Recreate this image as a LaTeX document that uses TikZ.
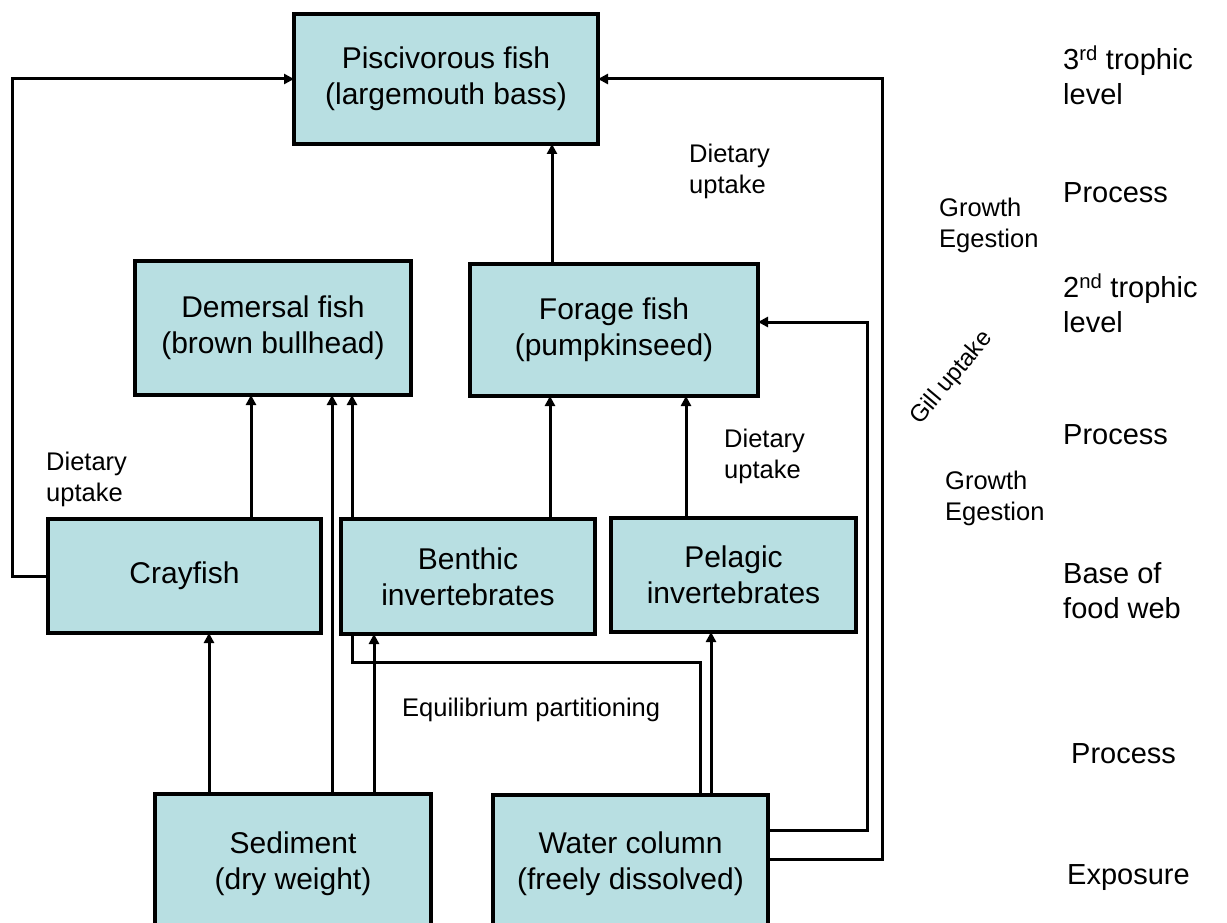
\documentclass[tikz,border=0pt]{standalone}
\usepackage{fontspec}
\setmainfont{Liberation Sans}
\usetikzlibrary{arrows.meta}
\definecolor{boxfill}{RGB}{184,223,226}
\tikzset{
  box/.style={draw=black, line width=4pt, fill=boxfill, inner sep=0pt, outer sep=0pt,
    align=center, font=\fontsize{30}{36}\selectfont},
  flow/.style={line width=3pt, -{Triangle[length=10pt,width=10pt]}},
  link/.style={line width=3pt},
  lbl/.style={align=left, anchor=west, inner sep=0pt, font=\fontsize{25.5}{31}\selectfont},
  side/.style={align=left, anchor=west, inner sep=0pt, font=\fontsize{29}{35}\selectfont}
}
\begin{document}
\begin{tikzpicture}[x=1pt,y=-1pt]
\clip (0,0) rectangle (1227,923);
\fill[white] (0,0) rectangle (1227,923);
% boxes
\node[box, minimum width=304, minimum height=130] (pisc) at (446,79) {Piscivorous fish\\(largemouth bass)};
\node[box, minimum width=276, minimum height=134] (dem) at (273,328) {Demersal fish\\(brown bullhead)};
\node[box, minimum width=288, minimum height=132] (forage) at (614,330) {Forage fish\\(pumpkinseed)};
\node[box, minimum width=273, minimum height=114] (cray) at (184.5,576) {Crayfish};
\node[box, minimum width=254, minimum height=115] (benth) at (468,576.5) {Benthic\\invertebrates};
\node[box, minimum width=245, minimum height=114] (pel) at (733.5,575) {Pelagic\\invertebrates};
\node[box, minimum width=276, minimum height=139] (sed) at (293,863.5) {Sediment\\(dry weight)};
\node[box, minimum width=275, minimum height=138] (water) at (630.5,864) {Water column\\(freely dissolved)};
% coordinates for bends
\coordinate (cl) at (12,79);
\coordinate (bj) at (352,662);
\coordinate (gf) at (867,322);
\coordinate (gp) at (882,79);
% connectors
\draw[flow] (cray.west |- 0,576) -| (cl) -- (pisc.west |- cl);
\draw[flow] (251,0 |- cray.north) -- (251,0 |- dem.south);
\draw[flow] (209,0 |- sed.north) -- (209,0 |- cray.south);
\draw[flow] (332,0 |- sed.north) -- (332,0 |- dem.south);
\draw[flow] (374,0 |- sed.north) -- (374,0 |- benth.south);
\draw[flow] (352,0 |- benth.north) -- (352,0 |- dem.south);
\draw[flow] (550,0 |- benth.north) -- (550,0 |- forage.south);
\draw[flow] (686,0 |- pel.north) -- (686,0 |- forage.south);
\draw[flow] (552,0 |- forage.north) -- (552,0 |- pisc.south);
\draw[link] (700,0 |- water.north) |- (bj) -- (352,0 |- benth.south);
\draw[flow] (711,0 |- water.north) -- (711,0 |- pel.south);
\draw[flow] (water.east |- 0,830) -| (gf) -- (forage.east |- gf);
\draw[flow] (water.east |- 0,859) -| (gp) -- (pisc.east |- gp);
% process labels
\node[lbl] (du1) at (689,171) {Dietary\\uptake};
\node[lbl] (ge1) at (939,225) {Growth\\Egestion};
\node[lbl] (du2) at (724,456) {Dietary\\uptake};
\node[lbl] (ge2) at (945,498) {Growth\\Egestion};
\node[lbl] (du3) at (46,479) {Dietary\\uptake};
\node[lbl] (eq) at (402,710) {Equilibrium partitioning};
\node[inner sep=0pt, rotate=50, font=\fontsize{24}{31}\selectfont] (gill) at (952,378) {Gill uptake};
% level labels
\node[side] (l3) at (1063,75) {3\textsuperscript{rd} trophic\\level};
\node[side] (p1) at (1063,193) {Process};
\node[side] (l2) at (1063,303) {2\textsuperscript{nd} trophic\\level};
\node[side] (p2) at (1063,435) {Process};
\node[side] (l1) at (1063,591) {Base of\\food web};
\node[side] (p3) at (1071,754) {Process};
\node[side] (ex) at (1067,878) {Exposure};
\end{tikzpicture}
\end{document}
